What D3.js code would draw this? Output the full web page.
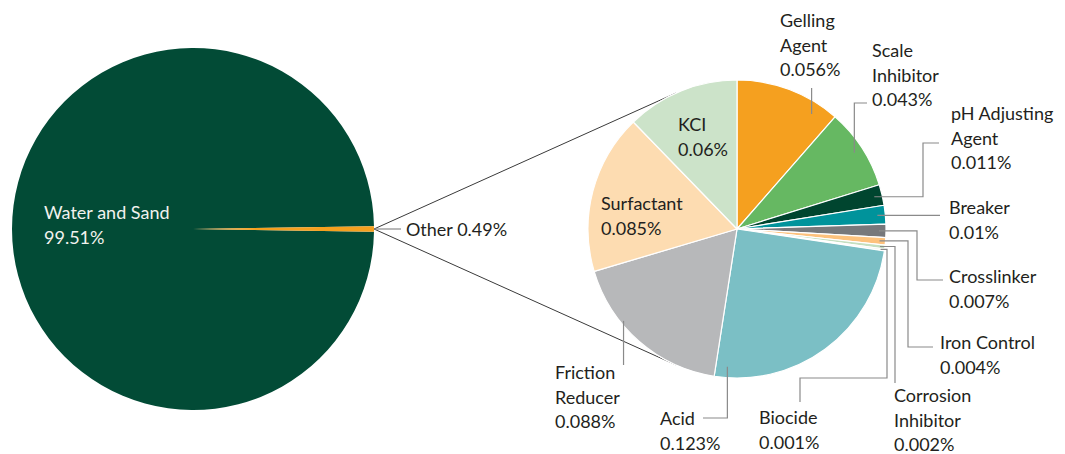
<!DOCTYPE html>
<html>
<head>
<meta charset="utf-8">
<script src="https://cdn.jsdelivr.net/npm/d3@7"></script>
<style>
  body { margin: 0; background: #fff; }
  svg text { font-family: Lato, "Noto Sans", sans-serif; font-size: 18px; fill: #231f20; }
</style>
</head>
<body>
<svg id="chart" width="1065" height="454"></svg>
<script>
// overall split
const mainNames = ["Water and Sand", "Other"];
const mainValues = [99.51, 0.49];
const mainColors = ["#024b36", "#f5a01f"];

// breakdown of "Other" (percent of total)
const otherNames = ["Gelling Agent", "Scale Inhibitor", "pH Adjusting Agent", "Breaker", "Crosslinker",
  "Iron Control", "Corrosion Inhibitor", "Biocide", "Acid", "Friction Reducer", "Surfactant", "KCl"];
const otherValues = [0.056, 0.043, 0.011, 0.01, 0.007, 0.004, 0.002, 0.001, 0.123, 0.088, 0.085, 0.06];
const otherLabels = [["Gelling", "Agent", "0.056%"], ["Scale", "Inhibitor", "0.043%"],
  ["pH Adjusting", "Agent", "0.011%"], ["Breaker", "0.01%"], ["Crosslinker", "0.007%"],
  ["Iron Control", "0.004%"], ["Corrosion", "Inhibitor", "0.002%"], ["Biocide", "0.001%"],
  ["Acid", "0.123%"], ["Friction", "Reducer", "0.088%"], ["Surfactant", "0.085%"], ["KCI", "0.06%"]];
const otherColors = ["#f5a01f", "#66b862", "#00452f", "#00939b", "#77787b", "#fdc27d",
  "#c4dfc0", "#eef5ec", "#7bbfc5", "#b7b8ba", "#fddcb1", "#cce3c9"];

// label placement: text x, first line y, leader: anchor angle (deg, null = slice middle), anchor radius, steps
const labelLayout = [
  { x: 780, y: 27, a: 33, r: 137, steps: [["v", 88]] },
  { x: 872, y: 57, a: null, r: 140, steps: [["v", 103], ["h", 867]] },
  { x: 951, y: 120, a: null, r: 141, steps: [["h", 923], ["v", 143], ["h", 939]] },
  { x: 949, y: 214, a: null, r: 141, steps: [["h", 940]] },
  { x: 949, y: 283, a: null, r: 142, steps: [["h", 917], ["v", 280], ["h", 943]] },
  { x: 940, y: 349, a: null, r: 143, steps: [["h", 908], ["v", 347], ["h", 933]] },
  { x: 894, y: 402, a: null, r: 144, steps: [["h", 895], ["v", 383]] },
  { x: 759, y: 424, a: null, r: 145, steps: [["h", 887], ["v", 378], ["h", 800], ["v", 402]] },
  { x: 660, y: 425, a: 184, r: 138, steps: [["v", 418], ["h", 703]] },
  { x: 555, y: 379, a: 231, r: 146, steps: [["v", 365]] },
  { x: 601, y: 210, inside: true },
  { x: 678, y: 131, inside: true }
];

const svg = d3.select("#chart");
const lineH = 24.5;

// big pie
const bigC = [193, 229], bigR = 181;
const bigPie = d3.pie().sort(null)
  .startAngle(Math.PI / 2 + (mainValues[1] / 100) * Math.PI)
  .endAngle(Math.PI / 2 + (mainValues[1] / 100) * Math.PI + 2 * Math.PI);
const bigArc = d3.arc().innerRadius(0).outerRadius(bigR);
svg.append("g").attr("transform", `translate(${bigC})`)
  .selectAll("path").data(bigPie(mainValues)).enter().append("path")
  .attr("d", bigArc).attr("fill", (d, i) => mainColors[i]);

// small pie
const smC = [737, 229], smR = 149;
const smPie = d3.pie().sort(null);
const smArc = d3.arc().innerRadius(0).outerRadius(smR);
const smArcs = smPie(otherValues);

// connector lines: tangents from right edge of big pie to small pie
const p0 = [bigC[0] + bigR, bigC[1]];
const dist = smC[0] - p0[0];
const th = Math.acos(smR / dist);
[-1, 1].forEach(s => {
  svg.append("line")
    .attr("x1", p0[0]).attr("y1", p0[1])
    .attr("x2", smC[0] - smR * Math.cos(th)).attr("y2", smC[1] + s * smR * Math.sin(th))
    .attr("stroke", "#3a3a3a").attr("stroke-width", 1);
});

svg.append("g").attr("transform", `translate(${smC})`)
  .selectAll("path").data(smArcs).enter().append("path")
  .attr("d", smArc).attr("fill", (d, i) => otherColors[i])
  .attr("stroke", "#fff").attr("stroke-width", 1.2).attr("stroke-linejoin", "round");

// leader lines
const leaders = svg.append("g").attr("fill", "none").attr("stroke", "#8a8a8a").attr("stroke-width", 1.2);
smArcs.forEach((d, i) => {
  const L = labelLayout[i];
  if (L.inside) return;
  const ang = L.a == null ? (d.startAngle + d.endAngle) / 2 : L.a * Math.PI / 180;
  let x = smC[0] + L.r * Math.sin(ang), y = smC[1] - L.r * Math.cos(ang);
  const pts = [[x, y]];
  L.steps.forEach(([t, v]) => { if (t === "h") x = v; else y = v; pts.push([x, y]); });
  leaders.append("path").attr("d", d3.line()(pts));
});
// leader for "Other"
leaders.append("line").attr("x1", p0[0]).attr("y1", p0[1]).attr("x2", 401).attr("y2", p0[1]);

// labels
function multiText(x, y, lines, color) {
  const t = svg.append("text").attr("x", x).attr("y", y);
  if (color) t.style("fill", color);
  lines.forEach((s, k) => t.append("tspan").attr("x", x).attr("y", y + k * lineH).text(s));
}
otherLabels.forEach((lines, i) => multiText(labelLayout[i].x, labelLayout[i].y, lines));
multiText(44, 219, [mainNames[0], mainValues[0] + "%"], "#f2f2ee");
multiText(406, 236, [mainNames[1] + " " + mainValues[1] + "%"]);
</script>
</body>
</html>
